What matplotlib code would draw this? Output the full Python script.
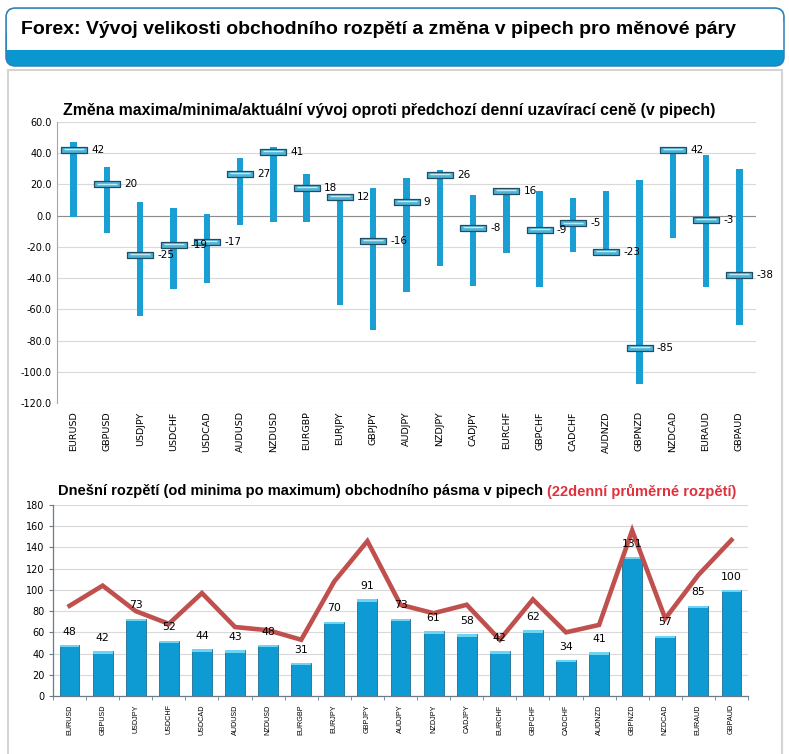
import matplotlib
matplotlib.use("Agg")
import matplotlib.pyplot as plt
from matplotlib.patches import FancyBboxPatch, Rectangle
from matplotlib.path import Path
import numpy as np

pairs = ["EURUSD", "GBPUSD", "USDJPY", "USDCHF", "USDCAD", "AUDUSD", "NZDUSD",
         "EURGBP", "EURJPY", "GBPJPY", "AUDJPY", "NZDJPY", "CADJPY", "EURCHF",
         "GBPCHF", "CADCHF", "AUDNZD", "GBPNZD", "NZDCAD", "EURAUD", "GBPAUD"]
change_max = [47, 31, 9, 5, 1, 37, 44, 27, 13, 18, 24, 29, 13, 18, 16, 11, 16, 23, 43, 39, 30]
change_min = [-1, -11, -64, -47, -43, -6, -4, -4, -57, -73, -49, -32, -45, -24, -46, -23, -25, -108, -14, -46, -70]
change_now = [42, 20, -25, -19, -17, 27, 41, 18, 12, -16, 9, 26, -8, 16, -9, -5, -23, -85, 42, -3, -38]
range_today = [48, 42, 73, 52, 44, 43, 48, 31, 70, 91, 73, 61, 58, 42, 62, 34, 41, 131, 57, 85, 100]
avg22 = [85, 104, 80, 68, 97, 65, 62, 53, 108, 146, 86, 78, 86, 53, 91, 60, 67, 156, 73, 114, 147]
top_yticks = [60, 40, 20, 0, -20, -40, -60, -80, -100, -120]
bot_yticks = [0, 20, 40, 60, 80, 100, 120, 140, 160, 180]

main_title = "Forex: Vývoj velikosti obchodního rozpětí a změna v pipech pro měnové páry"
top_title = "Změna maxima/minima/aktuální vývoj oproti předchozí denní uzavírací ceně (v pipech)"
bot_title_a = "Dnešní rozpětí (od minima po maximum) obchodního pásma v pipech "
bot_title_b = "(22denní průměrné rozpětí)"

W, H = 789, 754
fig = plt.figure(figsize=(W / 100, H / 100), dpi=100)
fig.patch.set_facecolor("white")

def fx(px):
    return px / W

def fy(py):
    return 1 - py / H

BLUE = "#1a9fd4"

# ---- header box ----
r = 0.012
fig.patches.append(FancyBboxPatch((fx(6), fy(66)), fx(778), fy(8) - fy(66),
                                  boxstyle=f"round,pad=0,rounding_size={r}",
                                  transform=fig.transFigure, facecolor="#0a97cf",
                                  edgecolor="none", zorder=1))
fig.patches.append(Rectangle((fx(6.5), fy(50)), fx(777), fy(22) - fy(50),
                             transform=fig.transFigure, facecolor="white",
                             edgecolor="none", zorder=2))
fig.patches.append(FancyBboxPatch((fx(6.5), fy(40)), fx(777), fy(8.5) - fy(40),
                                  boxstyle=f"round,pad=0,rounding_size={r}",
                                  transform=fig.transFigure, facecolor="white",
                                  edgecolor="none", zorder=2))
fig.patches.append(FancyBboxPatch((fx(6), fy(66)), fx(778), fy(8) - fy(66),
                                  boxstyle=f"round,pad=0,rounding_size={r}",
                                  transform=fig.transFigure, facecolor="none",
                                  edgecolor="#2f7fb5", linewidth=1.1, zorder=3))
# ---- content panel ----
fig.patches.append(Rectangle((fx(8), fy(760)), fx(774), fy(70) - fy(760),
                             transform=fig.transFigure, facecolor="none",
                             edgecolor="#d4d4d4", linewidth=1.5, zorder=-5))

t_main = fig.text(fx(21), fy(29), main_title, fontsize=14, fontweight="bold",
                  family=["Liberation Sans", "DejaVu Sans"], va="center", ha="left", zorder=5)

# ---- top chart ----
ax1 = fig.add_axes([fx(57), fy(403), fx(756) - fx(57), fy(122) - fy(403)])
ax1.set_zorder(2)
ax1.patch.set_alpha(0)
x = np.arange(len(pairs))
lo = np.array(change_min)
hi = np.array(change_max)
ax1.bar(x, hi - lo, bottom=lo, width=0.19, color=BLUE, zorder=3)
rect_marker = Path([(-5, -1.1), (5, -1.1), (5, 1.1), (-5, 1.1), (-5, -1.1)],
                   [Path.MOVETO, Path.LINETO, Path.LINETO, Path.LINETO, Path.CLOSEPOLY])
ax1.plot(x, change_now, linestyle="none", marker=rect_marker, markersize=19,
         markerfacecolor="#4fb3d6", markeredgecolor="#1f4d63", markeredgewidth=0.9, zorder=4)
ax1.plot(x, np.array(change_now) + 0.6, linestyle="none", marker="_", markersize=15,
         markeredgecolor="#bfeaf7", markeredgewidth=1.0, zorder=5)
for xi, v in zip(x, change_now):
    ax1.text(xi + 0.52, v, f"{v}", fontsize=7.5, va="center", ha="left", zorder=6)
ax1.set_xlim(-0.5, len(pairs) - 0.5)
ax1.set_ylim(-120, 60)
ax1.set_yticks(top_yticks)
ax1.set_yticklabels([f"{t:.1f}" for t in top_yticks], fontsize=7)
ax1.set_xticks(x)
ax1.set_xticklabels(pairs, rotation=90, fontsize=6.8)
ax1.tick_params(axis="both", length=0, pad=4)
ax1.tick_params(axis="x", pad=6)
ax1.grid(axis="y", color="#d9d9d9", linewidth=0.8, zorder=0)
ax1.axhline(0, color="#8c8c8c", linewidth=0.8, zorder=1)
for s in ["top", "right", "bottom"]:
    ax1.spines[s].set_visible(False)
ax1.spines["left"].set_color("#a6a6a6")
ax1.spines["left"].set_linewidth(0.8)
ax1.set_axisbelow(True)

t_top = fig.text(fx(63), fy(110), top_title, fontsize=10, fontweight="bold",
                 family=["Liberation Sans", "DejaVu Sans"], va="center", ha="left")

# ---- bottom chart ----
ax2 = fig.add_axes([fx(53), fy(696), fx(748) - fx(53), fy(505) - fy(696)])
ax2.set_zorder(2)
ax2.patch.set_alpha(0)
ax2.bar(x, range_today, width=0.6, color="#0e9ad2", edgecolor="#1b6e90",
        linewidth=0.6, zorder=3)
ax2.bar(x, [2.2] * len(x), bottom=np.array(range_today) - 2.2, width=0.6,
        color="#6fd3f2", edgecolor="none", zorder=4)
ax2.plot(x, avg22, color="#c0504d", linewidth=3.3, solid_joinstyle="miter", zorder=5)
for xi, v in zip(x, range_today):
    ax2.annotate(f"{v}", (xi, v), xytext=(0, 6), textcoords="offset points",
                 ha="center", va="bottom", fontsize=7.8, zorder=6)
ax2.set_xlim(-0.5, len(pairs) - 0.5)
ax2.set_ylim(0, 180)
ax2.set_yticks(bot_yticks)
ax2.set_yticklabels([str(t) for t in bot_yticks], fontsize=7)
ax2.set_xticks(x)
ax2.set_xticklabels(pairs, rotation=90, fontsize=5.2, family=["Liberation Sans", "DejaVu Sans"])
ax2.set_xticks(np.arange(-0.5, len(pairs), 1.0), minor=True)
ax2.tick_params(axis="x", which="major", length=0, pad=6)
ax2.tick_params(axis="x", which="minor", length=3, color="#6b7b8c", direction="out")
ax2.tick_params(axis="y", length=3, color="#6b7b8c", direction="out", pad=3)
ax2.grid(axis="y", color="#d9d9d9", linewidth=0.8, zorder=0)
for s in ["top", "right"]:
    ax2.spines[s].set_visible(False)
for s in ["left", "bottom"]:
    ax2.spines[s].set_color("#6b7b8c")
    ax2.spines[s].set_linewidth(0.9)
ax2.set_axisbelow(True)

t_bot_a = fig.text(fx(58), fy(491), bot_title_a, fontsize=10, fontweight="bold",
                   family=["Liberation Sans", "DejaVu Sans"], va="center", ha="left")

# fit title widths to reference
fig.canvas.draw()
rend = fig.canvas.get_renderer()

def fit(t, target_px):
    w = t.get_window_extent(rend).width
    t.set_fontsize(t.get_fontsize() * target_px / w)

fit(t_main, 737 - 21)
fit(t_top, 716 - 63)
t_bot_b = fig.text(0, fy(491), bot_title_b, fontsize=10, fontweight="bold",
                   family=["Liberation Sans", "DejaVu Sans"], va="center", ha="left",
                   color="#e0323c")
fig.canvas.draw()
wa = t_bot_a.get_window_extent(rend).width
wb = t_bot_b.get_window_extent(rend).width
scale = (736 - 58) / (wa + wb)
t_bot_a.set_fontsize(10 * scale)
t_bot_b.set_fontsize(10 * scale)
fig.canvas.draw()
wa = t_bot_a.get_window_extent(rend).width
t_bot_b.set_x(fx(58 + wa))

fig.savefig("out.png", dpi=100, facecolor="white")
